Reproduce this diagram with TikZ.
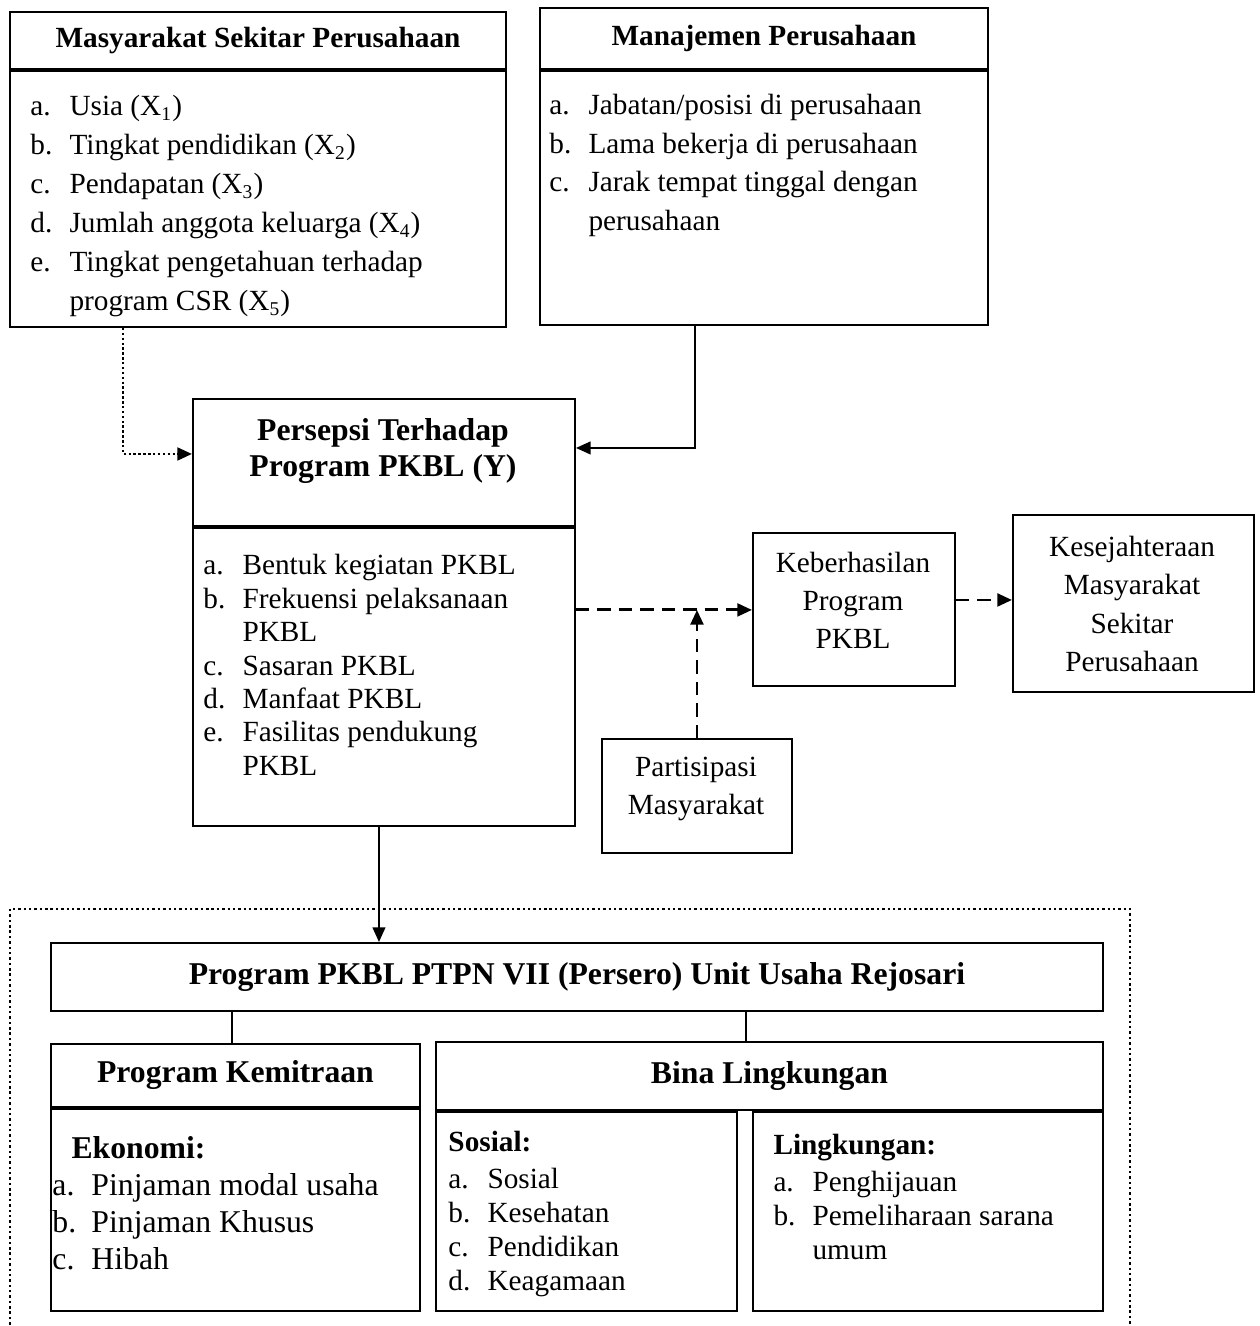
\documentclass[tikz,border=0pt]{standalone}
\usepackage{fontspec}
\setmainfont{Liberation Serif}
\usetikzlibrary{arrows.meta}
\def\unitpx{0.41pt}
\newcommand{\itemrow}[2]{\makebox[16pt][l]{#1}#2}
\newcommand{\itemcont}[1]{\hspace*{16pt}#1}
\newcommand{\Xs}[1]{(X\textsubscript{#1})}
\tikzset{
  box/.style={draw, line width=0.8pt, inner sep=0pt},
  sz/.style 2 args={minimum width=#1*\unitpx, minimum height=#2*\unitpx},
  hd/.style={font=\fontsize{12}{14}\selectfont\bfseries},
  hdbig/.style={font=\fontsize{13}{15}\selectfont\bfseries},
  lst/.style={inner sep=0pt, anchor=north west, align=left},
  ctr/.style={inner sep=0pt, align=center, font=\fontsize{12}{15.6}\selectfont},
  arr/.style={-{Triangle[length=6pt,width=5.2pt]}, line width=0.8pt},
  dsh/.style={arr, line width=1.2pt, dash pattern=on 5.5pt off 3.3pt},
  dts/.style={arr, line width=1.1pt, dash pattern=on 1pt off 1pt},
}
\begin{document}
\begin{tikzpicture}[x=\unitpx, y=-\unitpx]
\useasboundingbox (0,0) rectangle (1260,1326);
% upper boxes
\node[box, sz={496}{57}, anchor=north west, hd] (msHead) at (9,11) {Masyarakat Sekitar Perusahaan};
\node[box, sz={496}{256}, anchor=north] (msBody) at (msHead.south) {};
\node[box, sz={448}{61}, anchor=north west, hd] (mpHead) at (539,7) {Manajemen Perusahaan};
\node[box, sz={448}{254}, anchor=north] (mpBody) at (mpHead.south) {};
\node[box, sz={382}{127}, anchor=north west] (pyHead) at (192,398) {};
\node[box, sz={382}{298}, anchor=north] (pyBody) at (pyHead.south) {};
\node[box, sz={202}{153}, anchor=north west] (kbBox) at (752,532) {};
\node[box, sz={241}{177}, anchor=north west] (ksBox) at (1012,514) {};
\node[box, sz={190}{114}, anchor=north west] (ptBox) at (601,738) {};
% lower boxes
\node[box, sz={1052}{68}, anchor=north west, hdbig] (pkblBox) at (50,942) {Program PKBL PTPN VII (Persero) Unit Usaha Rejosari};
\node[box, sz={369}{63}, anchor=north west, hdbig] (kmHead) at (50,1043) {Program Kemitraan};
\node[box, sz={369}{202}, anchor=north] (kmBody) at (kmHead.south) {};
\node[box, sz={667}{68}, anchor=north west, hdbig] (blHead) at (435,1041) {Bina Lingkungan};
\node[box, sz={301}{199}, anchor=north west] (soBody) at (blHead.south west) {};
\node[box, sz={350}{199}, anchor=north east] (lkBody) at (blHead.south east) {};
% texts
\node[lst, font=\fontsize{12}{16}\selectfont] (msList) at (30,95)
  {\itemrow{a.}{Usia \Xs{1}}\\ \itemrow{b.}{Tingkat pendidikan \Xs{2}}\\ \itemrow{c.}{Pendapatan \Xs{3}}\\
   \itemrow{d.}{Jumlah anggota keluarga \Xs{4}}\\ \itemrow{e.}{Tingkat pengetahuan terhadap}\\ \itemcont{program CSR \Xs{5}}};
\node[lst, font=\fontsize{12}{15.8}\selectfont] (mpList) at (549,94)
  {\itemrow{a.}{Jabatan/posisi di perusahaan}\\ \itemrow{b.}{Lama bekerja di perusahaan}\\
   \itemrow{c.}{Jarak tempat tinggal dengan}\\ \itemcont{perusahaan}};
\node[ctr, font=\fontsize{13}{14.4}\selectfont\bfseries] (pyTitle) at (383,451) {Persepsi Terhadap\\Program PKBL (Y)};
\node[lst, font=\fontsize{12}{13.7}\selectfont] (pyList) at (203,554)
  {\itemrow{a.}{Bentuk kegiatan PKBL}\\ \itemrow{b.}{Frekuensi pelaksanaan}\\ \itemcont{PKBL}\\
   \itemrow{c.}{Sasaran PKBL}\\ \itemrow{d.}{Manfaat PKBL}\\ \itemrow{e.}{Fasilitas pendukung}\\ \itemcont{PKBL}};
\node[ctr] (kbText) at (853,600) {Keberhasilan\\Program\\PKBL};
\node[ctr] (ksText) at (1132,604) {Kesejahteraan\\Masyarakat\\Sekitar\\Perusahaan};
\node[ctr] (ptText) at (696,789) {Partisipasi\\Masyarakat};
\node[lst, font=\fontsize{13}{15.2}\selectfont] (kmList) at (52,1136)
  {\hspace*{7.8pt}\textbf{Ekonomi:}\\ \itemrow{a.}{Pinjaman modal usaha}\\ \itemrow{b.}{Pinjaman Khusus}\\ \itemrow{c.}{Hibah}};
\node[lst, font=\fontsize{12}{14}\selectfont] (soList) at (448,1131)
  {\textbf{Sosial:}\\[1pt] \itemrow{a.}{Sosial}\\ \itemrow{b.}{Kesehatan}\\ \itemrow{c.}{Pendidikan}\\ \itemrow{d.}{Keagamaan}};
\node[lst, font=\fontsize{12}{14}\selectfont] (lkList) at (773,1134)
  {\textbf{Lingkungan:}\\[1pt] \itemrow{a.}{Penghijauan}\\ \itemrow{b.}{Pemeliharaan sarana}\\ \itemcont{umum}};
% connectors
\draw[dts] ([xshift=-135*\unitpx]msBody.south) |- ([yshift=8.5*\unitpx]pyHead.west);
\draw[arr] ([xshift=-69*\unitpx]mpBody.south) |- ([yshift=14.5*\unitpx]pyHead.east);
\draw[dsh] ([yshift=67*\unitpx]pyBody.east) coordinate (dj) -- (dj -| kbBox.west);
\draw[dsh] (ptBox.north) -- (ptBox.north |- dj);
\draw[dsh] ([yshift=9.5*\unitpx]kbBox.east) coordinate (kj) -- (kj -| ksBox.west);
\draw[arr] ([xshift=-5*\unitpx]pyBody.south) -- ([xshift=-5*\unitpx]pyBody.south |- pkblBox.north);
\draw[line width=0.8pt] ([xshift=-3.5*\unitpx]kmHead.north |- pkblBox.south) -- ([xshift=-3.5*\unitpx]kmHead.north);
\draw[line width=0.8pt] ([xshift=-23.5*\unitpx]blHead.north |- pkblBox.south) -- ([xshift=-23.5*\unitpx]blHead.north);
% dotted frame
\draw[line width=1pt, dash pattern=on 1pt off 1.2pt] (10,1330) -- (10,909) -- (1130,909) -- (1130,1330);
\end{tikzpicture}
\end{document}
